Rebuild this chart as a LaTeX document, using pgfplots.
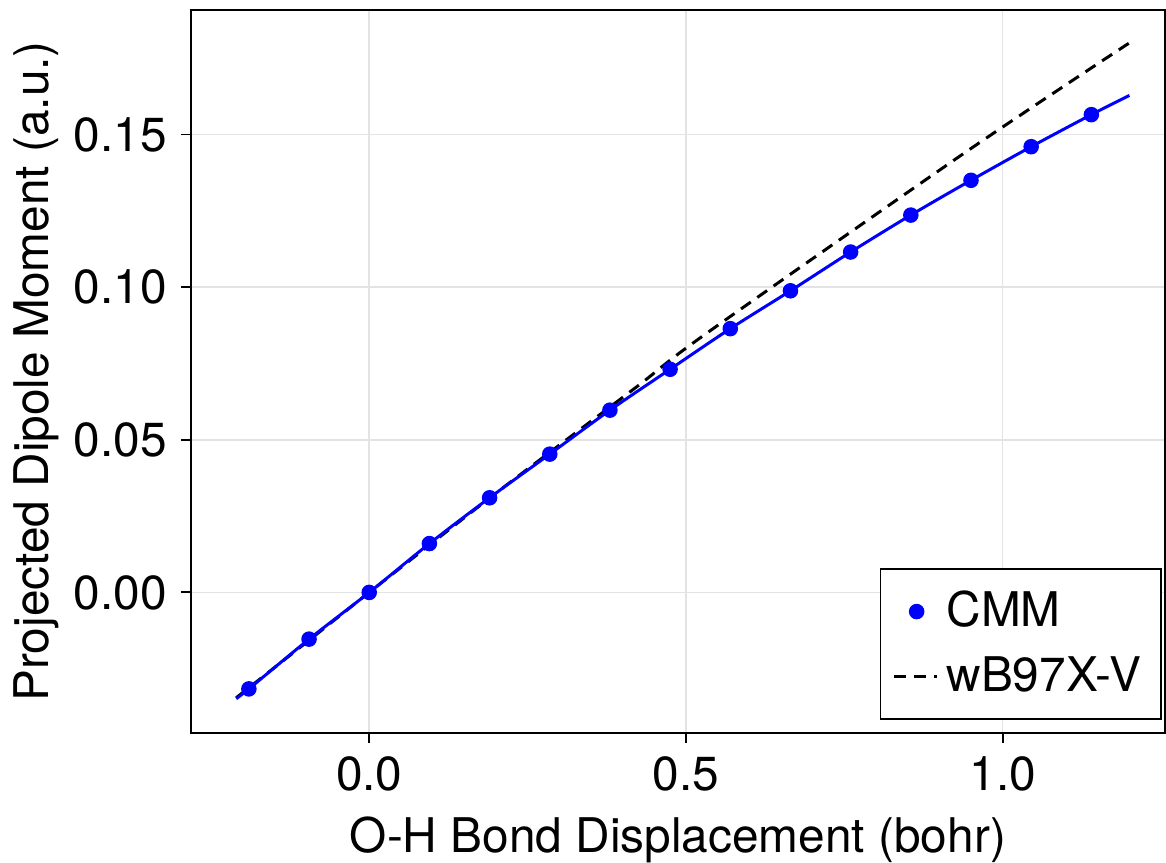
\documentclass[border=0pt]{standalone}
\usepackage{pgfplots}
\pgfplotsset{compat=1.18}
\usepackage{fontspec}
\setmainfont{TeX Gyre Heros}
\definecolor{cmmblue}{RGB}{0,0,255}
\pgfplotsset{
    dotlegend/.style={legend image code/.code={\draw[##1] plot coordinates {(0.2cm,0cm)};}},
    shortline/.style={legend image code/.code={\draw[##1] (0cm,0cm) -- (0.38cm,0cm);}},
}

\begin{document}
\begin{tikzpicture}
\begin{axis}[
    scale only axis,
    width=244.5pt, height=181.5pt,
    xmin=-0.2814, xmax=1.256,
    ymin=-0.046, ymax=0.1908,
    xtick={0,0.5,1.0},
    ytick={0,0.05,0.10,0.15},
    xticklabel style={/pgf/number format/.cd,fixed,fixed zerofill,precision=1},
    yticklabel style={/pgf/number format/.cd,fixed,fixed zerofill,precision=2},
    /pgf/number format/assume math mode=true,
    tick label style={font=\fontsize{12}{14}\selectfont},
    label style={font=\fontsize{12}{14}\selectfont},
    xlabel={O-H Bond Displacement (bohr)},
    ylabel={Projected Dipole Moment (a.u.)},
    xlabel style={inner sep=0pt, yshift=-2.75pt},
    ylabel style={yshift=-3pt},
    tick align=outside,
    xtick pos=bottom, ytick pos=left,
    major tick length=2.5pt,
    tick style={black, line width=0.5pt},
    axis line style={line width=0.6pt},
    grid=major,
    grid style={gray!22, line width=0.4pt},
    legend style={
        at={(0.997,0.018)}, anchor=south east,
        font=\fontsize{12}{14}\selectfont,
        draw=black, line width=0.4pt,
        row sep=2pt, inner xsep=3pt, inner ysep=3.5pt,
    },
    legend cell align=left,
    extra description/.code={\path (0,1) ++(0,2.5pt);},
]
% CMM points
\addplot[only marks, mark=*, mark size=1.75pt, color=cmmblue, dotlegend] coordinates {
    (-0.19,-0.0316) (-0.095,-0.0153) (0,0) (0.095,0.0160) (0.19,0.0310)
    (0.285,0.0453) (0.38,0.0597) (0.475,0.0731) (0.57,0.0864) (0.665,0.0988)
    (0.76,0.1115) (0.855,0.1236) (0.95,0.1350) (1.045,0.1460) (1.14,0.1565)
};
\addlegendentry{CMM}
% wB97X-V reference (dashed)
\addplot[black, line width=0.75pt, dash pattern=on 3pt off 2pt, smooth, shortline] coordinates {
    (-0.21,-0.0345) (-0.1,-0.0165) (0,0) (0.2,0.0325) (0.42,0.0670)
    (0.53,0.0845) (0.94,0.1440) (1.2,0.180)
};
\addlegendentry{wB97X-V}
% CMM fitted curve
\addplot[cmmblue, line width=0.75pt, smooth, forget plot] coordinates {
    (-0.21,-0.0348) (-0.19,-0.0316) (-0.095,-0.0153) (0,0) (0.095,0.0160) (0.19,0.0310)
    (0.285,0.0453) (0.38,0.0597) (0.475,0.0731) (0.57,0.0864) (0.665,0.0988)
    (0.76,0.1115) (0.855,0.1236) (0.95,0.1350) (1.045,0.1460) (1.14,0.1565) (1.2,0.1628)
};
\end{axis}
\end{tikzpicture}
\end{document}
